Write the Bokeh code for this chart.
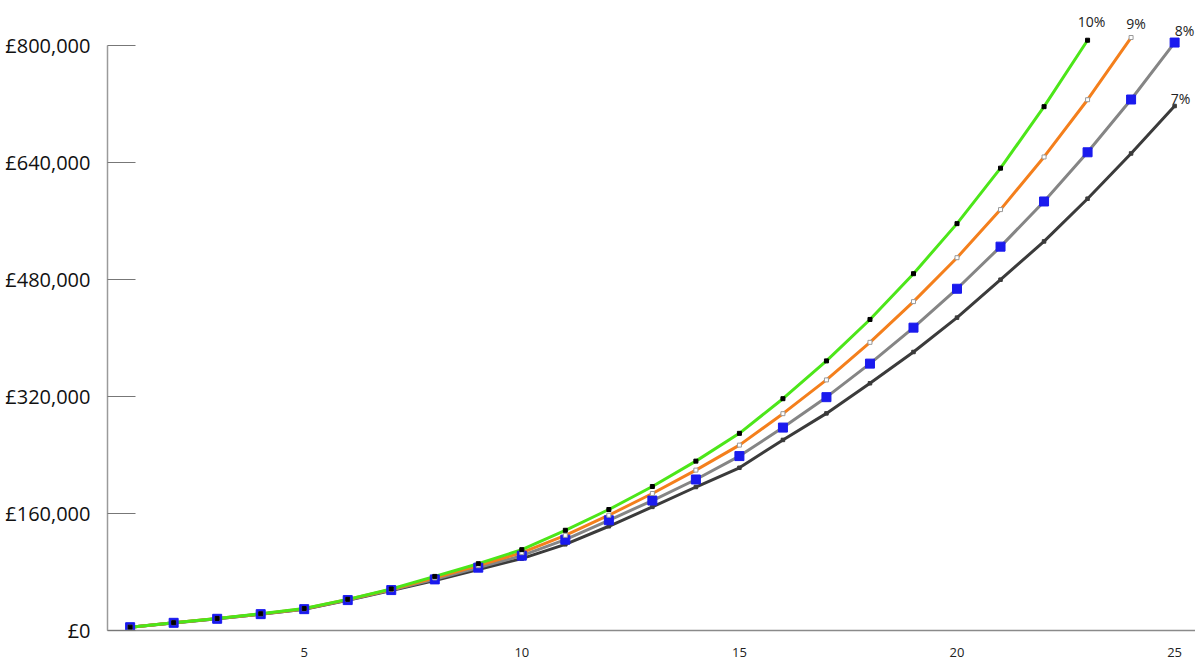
from bokeh.plotting import figure
from bokeh.models import Range1d, FixedTicker, ColumnDataSource
from bokeh.core.properties import value
from bokeh.embed import file_html
from bokeh.resources import INLINE

years = list(range(1, 26))

rate_10 = [4600, 10700, 16500, 22900, 30000, 42600, 56800, 74000, 91400, 110600,
           137100, 165500, 197000, 231700, 269700, 317100, 368800, 425500, 488100,
           556600, 632500, 716600, 807500]
rate_9 = [4550, 10600, 16300, 22700, 29700, 42300, 56000, 72000, 88700, 106500,
          130200, 157700, 187400, 219400, 253600, 296600, 342800, 394200, 449900,
          510000, 575800, 647800, 726100, 811200]
rate_8 = [4500, 10500, 16000, 22400, 29200, 41600, 55300, 69900, 86000, 102400,
          124300, 150800, 177800, 206600, 238600, 277600, 319200, 365100, 414300,
          467500, 525100, 586900, 654200, 726400, 804300]
rate_7 = [4450, 10400, 15900, 22200, 29000, 41200, 54500, 68500, 83500, 98300,
          117900, 142600, 169100, 196300, 222600, 260700, 297000, 338200, 381000,
          428000, 479900, 532300, 590700, 652600, 717500]

series_labels = ["10%", "9%", "8%", "7%"]
y_ticks = [0, 160000, 320000, 480000, 640000, 800000]
x_ticks = [5, 10, 15, 20, 25]

FONT = "Open Sans"

p = figure(width=1195, height=666, output_backend="svg", toolbar_location=None,
           x_range=Range1d(0.48, 25.48), y_range=Range1d(0, 855000),
           min_border_left=107, min_border_right=0, min_border_top=5,
           min_border_bottom=36)
p.outline_line_color = None
p.xgrid.grid_line_color = None
p.ygrid.grid_line_color = None
p.background_fill_color = "white"

# y axis
p.yaxis.ticker = FixedTicker(ticks=y_ticks)
p.yaxis.major_label_overrides = {v: f"£{v:,}" for v in y_ticks}
p.yaxis.bounds = (0, 800000)
p.yaxis.axis_line_color = "#9a9a9a"
p.yaxis.axis_line_width = 1.5
p.yaxis.major_tick_in = 28
p.yaxis.major_tick_out = 0
p.yaxis.major_tick_line_color = "#777777"
p.yaxis.major_tick_line_width = 1.2
p.yaxis.minor_tick_line_color = None
p.yaxis.major_label_text_font = FONT
p.yaxis.major_label_text_font_size = "20px"
p.yaxis.major_label_text_color = "#111111"
p.yaxis.major_label_standoff = 17

# x axis
p.xaxis.ticker = FixedTicker(ticks=x_ticks)
p.xaxis.axis_line_color = "#8a8a8a"
p.xaxis.axis_line_width = 1.5
p.xaxis.major_tick_in = 0
p.xaxis.major_tick_out = 0
p.xaxis.minor_tick_line_color = None
p.xaxis.major_label_text_font = FONT
p.xaxis.major_label_text_font_size = "13px"
p.xaxis.major_label_text_color = "#222222"
p.xaxis.major_label_standoff = 17

series = [
    (rate_7, "#3b3b3b", dict(size=3.5, fill_color="#3b3b3b", line_color="#3b3b3b")),
    (rate_8, "#858585", dict(size=9, fill_color="#1a1aee", line_color="#1a1aee")),
    (rate_9, "#f47f1c", dict(size=4, fill_color="white", line_color="#999999")),
    (rate_10, "#4ce619", dict(size=4, fill_color="black", line_color="black")),
]

for vals, color, _ in series:
    p.line(years[:len(vals)], vals, line_color=color, line_width=3)

for vals, color, mk in series:
    p.scatter(years[:len(vals)], vals, marker="square", line_width=1, **mk)

# end labels
ends = {"10%": rate_10, "9%": rate_9, "8%": rate_8, "7%": rate_7}
label_dx = [4, 5, 10, 6]
label_dy = [-19, -14, -12, -8]
lab_src = ColumnDataSource(dict(
    x=[len(ends[s]) for s in series_labels],
    y=[ends[s][-1] for s in series_labels],
    text=series_labels,
    dx=label_dx,
    dy=label_dy,
))
p.text(x="x", y="y", text="text", source=lab_src, x_offset="dx", y_offset="dy",
       text_align="center", text_baseline="middle", text_font=value(FONT),
       text_font_size="14px", text_color="#222222")

open("out.html", "w").write(file_html(p, INLINE))
